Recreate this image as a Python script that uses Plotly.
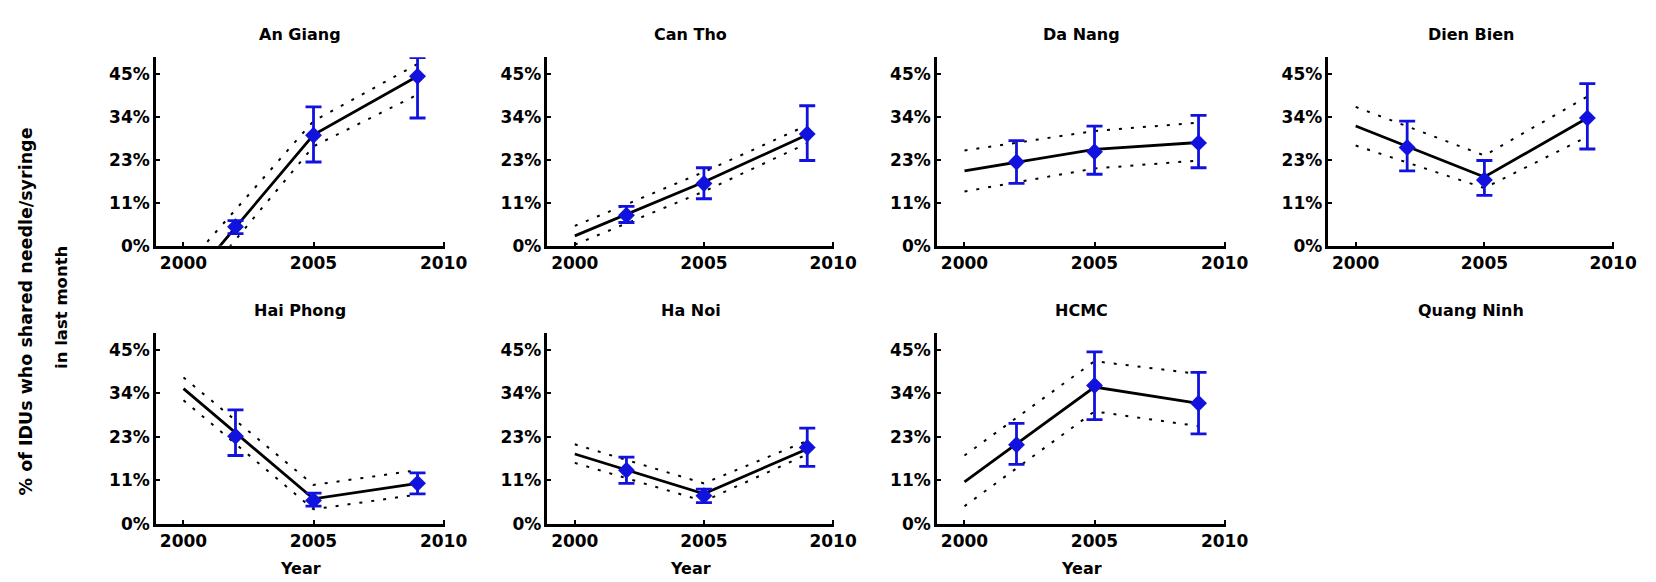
import plotly.graph_objects as go

# ---- data ----
provinces = ["An Giang", "Can Tho", "Da Nang", "Dien Bien",
             "Hai Phong", "Ha Noi", "HCMC", "Quang Ninh"]
survey_years = [2002, 2005, 2009]
fit_years = [2000, 2005, 2009]

# observed % sharing (point estimate and 95% CI), one row per province
obs_mid = [
    [5.0, 28.9, 44.3],
    [8.0, 16.3, 29.2],
    [21.9, 24.6, 26.9],
    [25.7, 17.2, 33.4],
    [22.7, 6.1, 10.5],
    [13.9, 7.3, 19.8],
    [20.5, 35.8, 31.2],
    [],
]
obs_lo = [
    [3.2, 21.9, 33.4],
    [6.1, 12.3, 22.3],
    [16.3, 18.7, 20.4],
    [19.6, 13.2, 25.3],
    [17.7, 4.6, 7.8],
    [10.5, 5.5, 14.9],
    [15.4, 27.0, 23.3],
    [],
]
obs_hi = [
    [6.6, 36.3, 49.2],
    [10.3, 20.4, 36.6],
    [27.5, 31.3, 34.1],
    [32.6, 22.3, 42.4],
    [29.5, 8.0, 13.2],
    [17.3, 9.0, 24.8],
    [26.0, 44.5, 39.2],
    [],
]

# fitted trend and its band (at 2000, 2005, 2009)
fit_mid = [
    [-11.3, 29.0, 44.3],
    [2.6, 16.7, 29.0],
    [19.6, 25.2, 27.0],
    [31.3, 18.0, 33.4],
    [35.0, 6.5, 10.5],
    [18.1, 7.8, 19.4],
    [10.9, 35.4, 31.2],
    [],
]
fit_upper = [
    [-6.0, 32.6, 47.5],
    [5.2, 19.3, 31.5],
    [24.9, 30.0, 32.2],
    [36.3, 23.6, 39.0],
    [37.9, 10.1, 13.9],
    [20.6, 10.5, 21.5],
    [17.7, 42.1, 38.8],
    [],
]
fit_lower = [
    [-14.7, 26.0, 39.5],
    [0.3, 14.2, 26.8],
    [14.2, 20.2, 22.3],
    [26.2, 15.1, 28.5],
    [32.0, 3.8, 7.6],
    [15.8, 5.9, 18.0],
    [4.6, 29.1, 25.3],
    [],
]

y_tickvals = [0, 11.25, 22.5, 33.75, 45]
y_ticktext = ["0%", "11%", "23%", "34%", "45%"]
x_tickvals = [2000, 2005, 2010]

# ---- layout geometry (pixels) ----
W, H = 1656, 582
col_px = [(150, 443), (547, 838), (942, 1235), (1339, 1629)]
row_px = [(50, 242), (331, 525)]
BLUE = "rgb(18,18,222)"
TICK_FONT = dict(family="DejaVu Sans", size=17, color="black", weight="bold")

fig = go.Figure()
annotations = []

for i, name in enumerate(provinces):
    r, c = divmod(i, 4)
    n = i + 1
    sfx = "" if n == 1 else str(n)
    x0, x1 = col_px[c]
    top, bottom = row_px[r]
    has_data = len(obs_mid[i]) > 0

    fig.layout[f"xaxis{sfx}"] = dict(
        domain=[x0 / W, x1 / W], anchor=f"y{sfx}", range=[1998.94, 2010.05],
        tickvals=x_tickvals, ticks="inside", ticklen=4, tickwidth=2,
        tickcolor="black", showline=True, linewidth=2.5, linecolor="black",
        showgrid=False, zeroline=False, fixedrange=True, visible=has_data,
        tickfont=TICK_FONT,
    )
    fig.layout[f"yaxis{sfx}"] = dict(
        domain=[1 - bottom / H, 1 - top / H], anchor=f"x{sfx}", range=[0, 49.3],
        tickvals=y_tickvals, ticktext=y_ticktext, ticks="inside", ticklen=4,
        tickwidth=2, tickcolor="black", showline=True, linewidth=2.5,
        linecolor="black", showgrid=False, zeroline=False, fixedrange=True,
        visible=has_data, tickfont=TICK_FONT,
    )

    annotations.append(dict(
        text=name, x=(x0 + x1) / 2 / W, y=1 - (top - 23) / H,
        xref="paper", yref="paper", xanchor="center", yanchor="middle",
        showarrow=False,
    ))
    if r == 1 and has_data:
        annotations.append(dict(
            text="Year", x=(x0 + x1) / 2 / W, y=1 - 570 / H,
            xref="paper", yref="paper", xanchor="center", yanchor="middle",
            showarrow=False,
        ))

    if not has_data:
        continue

    xa, ya = f"x{sfx}", f"y{sfx}"
    for band in (fit_upper[i], fit_lower[i]):
        fig.add_trace(go.Scatter(
            x=fit_years, y=band, mode="lines", xaxis=xa, yaxis=ya,
            line=dict(color="black", width=2, dash="3px,9px"),
            hoverinfo="skip",
        ))
    fig.add_trace(go.Scatter(
        x=fit_years, y=fit_mid[i], mode="lines", xaxis=xa, yaxis=ya,
        line=dict(color="black", width=2.8),
    ))
    mid = obs_mid[i]
    fig.add_trace(go.Scatter(
        x=survey_years, y=mid, mode="markers", xaxis=xa, yaxis=ya,
        marker=dict(symbol="diamond", size=13, color=BLUE),
        error_y=dict(
            type="data", symmetric=False,
            array=[h - m for h, m in zip(obs_hi[i], mid)],
            arrayminus=[m - lo for m, lo in zip(mid, obs_lo[i])],
            color=BLUE, thickness=2.8, width=8,
        ),
        cliponaxis=True,
    ))

annotations.append(dict(
    text="% of IDUs who shared needle/syringe", textangle=-90,
    x=18 / W, y=1 - 309 / H, xref="paper", yref="paper",
    xanchor="center", yanchor="middle", showarrow=False,
    font=dict(size=17.5),
))
annotations.append(dict(
    text="in last month", textangle=-90,
    x=55 / W, y=1 - 305 / H, xref="paper", yref="paper",
    xanchor="center", yanchor="middle", showarrow=False,
    font=dict(size=16.5),
))

fig.update_layout(
    width=W, height=H, margin=dict(l=0, r=0, t=0, b=0),
    paper_bgcolor="white", plot_bgcolor="white", showlegend=False,
    font=dict(family="DejaVu Sans", size=16, color="black", weight="bold"),
    annotations=annotations,
)

fig.write_html("out.html")
